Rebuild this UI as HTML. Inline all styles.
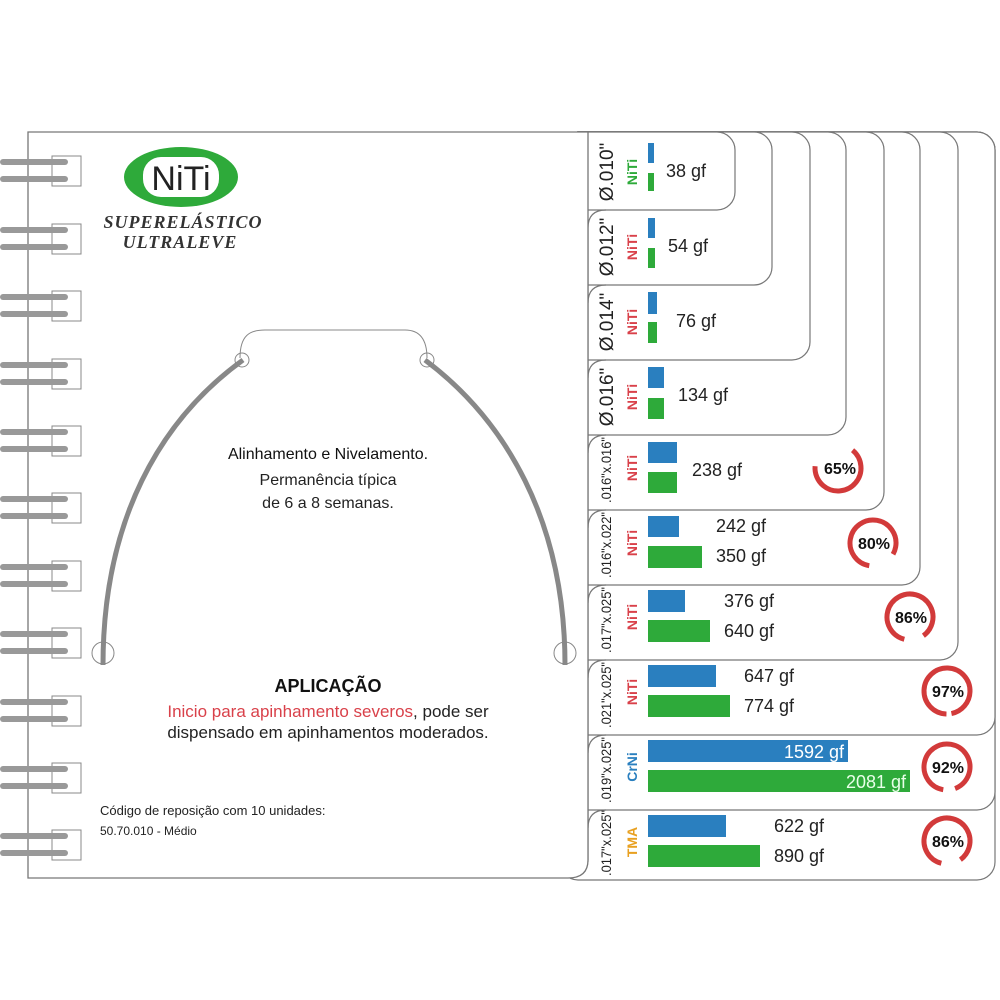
<!DOCTYPE html>
<html><head><meta charset="utf-8"><style>
html,body{margin:0;padding:0;background:#fff;}
svg{display:block;font-family:"Liberation Sans",Arial,sans-serif;}
</style></head><body>
<svg width="1000" height="1000" viewBox="0 0 1000 1000" xmlns="http://www.w3.org/2000/svg">
<rect width="1000" height="1000" fill="#fff"/>
<g fill="#fff" stroke="#777" stroke-width="1.2">
<rect x="560" y="132" width="435" height="748" rx="18"/>
<rect x="560" y="132" width="435" height="678" rx="18"/>
<rect x="560" y="132" width="435" height="603" rx="18"/>
<rect x="560" y="132" width="398" height="528" rx="18"/>
<rect x="560" y="132" width="360" height="453" rx="18"/>
<rect x="560" y="132" width="324" height="378" rx="18"/>
<rect x="560" y="132" width="286" height="303" rx="18"/>
<rect x="560" y="132" width="250" height="228" rx="18"/>
<rect x="560" y="132" width="212" height="153" rx="18"/>
<rect x="560" y="132" width="175" height="78" rx="18"/>
</g>
<g fill="none" stroke="#777" stroke-width="1.2">
<path d="M588,862 L588,228 Q588,210 606,210"/>
<path d="M588,303 Q588,285 606,285"/><path d="M588,378 Q588,360 606,360"/>
<path d="M588,453 Q588,435 606,435"/><path d="M588,528 Q588,510 606,510"/>
<path d="M588,603 Q588,585 606,585"/><path d="M588,678 Q588,660 606,660"/>
<path d="M588,753 Q588,735 606,735"/><path d="M588,828 Q588,810 606,810"/>
</g>
<path d="M28,132 L588,132 L588,860 Q588,878 568,878 L28,878 Z" fill="#fff" stroke="#777" stroke-width="1.3"/>
<g>
<g id="sp">
<rect x="52" y="156" width="29" height="30" fill="none" stroke="#888" stroke-width="1"/>
<rect x="0" y="159" width="68" height="6" rx="3" fill="#999"/>
<rect x="0" y="176" width="68" height="6" rx="3" fill="#999"/>
</g>
<use href="#sp" y="68"/><use href="#sp" y="135"/><use href="#sp" y="203"/><use href="#sp" y="270"/>
<use href="#sp" y="337"/><use href="#sp" y="405"/><use href="#sp" y="472"/><use href="#sp" y="540"/>
<use href="#sp" y="607"/><use href="#sp" y="674"/>
</g>
<ellipse cx="181" cy="177" rx="57" ry="30" fill="#2eaa3a"/>
<rect x="143" y="157" width="76" height="40" rx="18" fill="#fff"/>
<text x="181" y="190" font-size="34" text-anchor="middle" fill="#222">NiTi</text>
<text x="183" y="228" font-size="18" font-family="Liberation Serif,serif" font-style="italic" font-weight="bold" text-anchor="middle" fill="#333" letter-spacing="1">SUPERELÁSTICO</text>
<text x="180" y="248" font-size="18" font-family="Liberation Serif,serif" font-style="italic" font-weight="bold" text-anchor="middle" fill="#333" letter-spacing="1">ULTRALEVE</text>
<path d="M240,358 C240,335 250,330 265,330 L405,330 C420,330 427,340 427,358" fill="none" stroke="#888" stroke-width="1"/>
<path d="M103,665 C103,520 160,420 243,360" fill="none" stroke="#888" stroke-width="5"/>
<path d="M425,360 C505,420 565,520 565,665" fill="none" stroke="#888" stroke-width="5"/>
<g fill="none" stroke="#888" stroke-width="1"><circle cx="242" cy="360" r="7"/><circle cx="427" cy="360" r="7"/><circle cx="103" cy="653" r="11"/><circle cx="565" cy="653" r="11"/></g>
<text x="328" y="459" font-size="16" text-anchor="middle" fill="#111">Alinhamento e Nivelamento.</text>
<text x="328" y="485" font-size="16" text-anchor="middle" fill="#222">Permanência típica</text>
<text x="328" y="508" font-size="16" text-anchor="middle" fill="#222">de 6 a 8 semanas.</text>
<text x="328" y="692" font-size="18" font-weight="bold" text-anchor="middle" fill="#111">APLICAÇÃO</text>
<text x="328" y="717" font-size="17" text-anchor="middle" fill="#222"><tspan fill="#d9414a">Inicio para apinhamento severos</tspan>, pode ser</text>
<text x="328" y="738" font-size="17" text-anchor="middle" fill="#222">dispensado em apinhamentos moderados.</text>
<text x="100" y="815" font-size="13" fill="#222">Código de reposição com 10 unidades:</text>
<text x="100" y="835" font-size="12" fill="#222">50.70.010 - Médio</text>
<g>
<text transform="translate(613,172) rotate(-90)" font-size="19" text-anchor="middle" fill="#222">Ø.010"</text>
<text transform="translate(637,172) rotate(-90)" font-size="14" font-weight="bold" text-anchor="middle" fill="#2eaa3a">NiTi</text>
<text transform="translate(613,247) rotate(-90)" font-size="19" text-anchor="middle" fill="#222">Ø.012"</text>
<text transform="translate(637,247) rotate(-90)" font-size="14" font-weight="bold" text-anchor="middle" fill="#d9414a">NiTi</text>
<text transform="translate(613,322) rotate(-90)" font-size="19" text-anchor="middle" fill="#222">Ø.014"</text>
<text transform="translate(637,322) rotate(-90)" font-size="14" font-weight="bold" text-anchor="middle" fill="#d9414a">NiTi</text>
<text transform="translate(613,397) rotate(-90)" font-size="19" text-anchor="middle" fill="#222">Ø.016"</text>
<text transform="translate(637,397) rotate(-90)" font-size="14" font-weight="bold" text-anchor="middle" fill="#d9414a">NiTi</text>
</g>
<g font-size="14" fill="#222" text-anchor="middle">
<text transform="translate(611,470) rotate(-90)" textLength="66" lengthAdjust="spacingAndGlyphs">.016"x.016"</text>
<text transform="translate(611,545) rotate(-90)" textLength="66" lengthAdjust="spacingAndGlyphs">.016"x.022"</text>
<text transform="translate(611,620) rotate(-90)" textLength="66" lengthAdjust="spacingAndGlyphs">.017"x.025"</text>
<text transform="translate(611,695) rotate(-90)" textLength="66" lengthAdjust="spacingAndGlyphs">.021"x.025"</text>
<text transform="translate(611,770) rotate(-90)" textLength="66" lengthAdjust="spacingAndGlyphs">.019"x.025"</text>
<text transform="translate(611,843) rotate(-90)" textLength="66" lengthAdjust="spacingAndGlyphs">.017"x.025"</text>
</g>
<g font-size="14" font-weight="bold" text-anchor="middle">
<text transform="translate(637,468) rotate(-90)" fill="#d9414a">NiTi</text>
<text transform="translate(637,543) rotate(-90)" fill="#d9414a">NiTi</text>
<text transform="translate(637,617) rotate(-90)" fill="#d9414a">NiTi</text>
<text transform="translate(637,692) rotate(-90)" fill="#d9414a">NiTi</text>
<text transform="translate(637,767) rotate(-90)" fill="#2a7fbf">CrNi</text>
<text transform="translate(637,842) rotate(-90)" fill="#e8a020">TMA</text>
</g>
<g fill="#2a7fbf">
<rect x="648" y="143" width="6" height="20"/><rect x="648" y="218" width="7" height="20"/>
<rect x="648" y="292" width="9" height="22"/><rect x="648" y="367" width="16" height="21"/>
<rect x="648" y="442" width="29" height="21"/><rect x="648" y="516" width="31" height="21"/>
<rect x="648" y="590" width="37" height="22"/><rect x="648" y="665" width="68" height="22"/>
<rect x="648" y="740" width="200" height="22"/><rect x="648" y="815" width="78" height="22"/>
</g>
<g fill="#2eaa3a">
<rect x="648" y="173" width="6" height="18"/><rect x="648" y="248" width="7" height="20"/>
<rect x="648" y="322" width="9" height="21"/><rect x="648" y="398" width="16" height="21"/>
<rect x="648" y="472" width="29" height="21"/><rect x="648" y="546" width="54" height="22"/>
<rect x="648" y="620" width="62" height="22"/><rect x="648" y="695" width="82" height="22"/>
<rect x="648" y="770" width="262" height="22"/><rect x="648" y="845" width="112" height="22"/>
</g>
<g font-size="18" fill="#222">
<text x="666" y="177">38 gf</text><text x="668" y="252">54 gf</text>
<text x="676" y="327">76 gf</text><text x="678" y="401">134 gf</text>
<text x="692" y="476">238 gf</text>
<text x="716" y="532">242 gf</text><text x="716" y="562">350 gf</text>
<text x="724" y="607">376 gf</text><text x="724" y="637">640 gf</text>
<text x="744" y="682">647 gf</text><text x="744" y="712">774 gf</text>
<text x="844" y="758" text-anchor="end" fill="#fff">1592 gf</text>
<text x="906" y="788" text-anchor="end" fill="#e8ffe8">2081 gf</text>
<text x="774" y="832">622 gf</text><text x="774" y="862">890 gf</text>
</g>
<g fill="none" stroke="#d23a3a" stroke-width="5">
<circle cx="838" cy="468" r="23" stroke-dasharray="94 50" transform="rotate(-50 838 468)"/>
<circle cx="873" cy="543" r="23" stroke-dasharray="116 28" transform="rotate(100 873 543)"/>
<circle cx="910" cy="617" r="23" stroke-dasharray="124 20" transform="rotate(105 910 617)"/>
<circle cx="947" cy="691" r="23" stroke-dasharray="139 5" transform="rotate(92 947 691)"/>
<circle cx="947" cy="767" r="23" stroke-dasharray="132 12" transform="rotate(100 947 767)"/>
<circle cx="947" cy="841" r="23" stroke-dasharray="124 20" transform="rotate(105 947 841)"/>
</g>
<g font-size="16" font-weight="bold" fill="#111" text-anchor="middle">
<text x="840" y="474">65%</text><text x="874" y="549">80%</text><text x="911" y="623">86%</text>
<text x="948" y="697">97%</text><text x="948" y="773">92%</text><text x="948" y="847">86%</text>
</g>
</svg>
</body></html>
